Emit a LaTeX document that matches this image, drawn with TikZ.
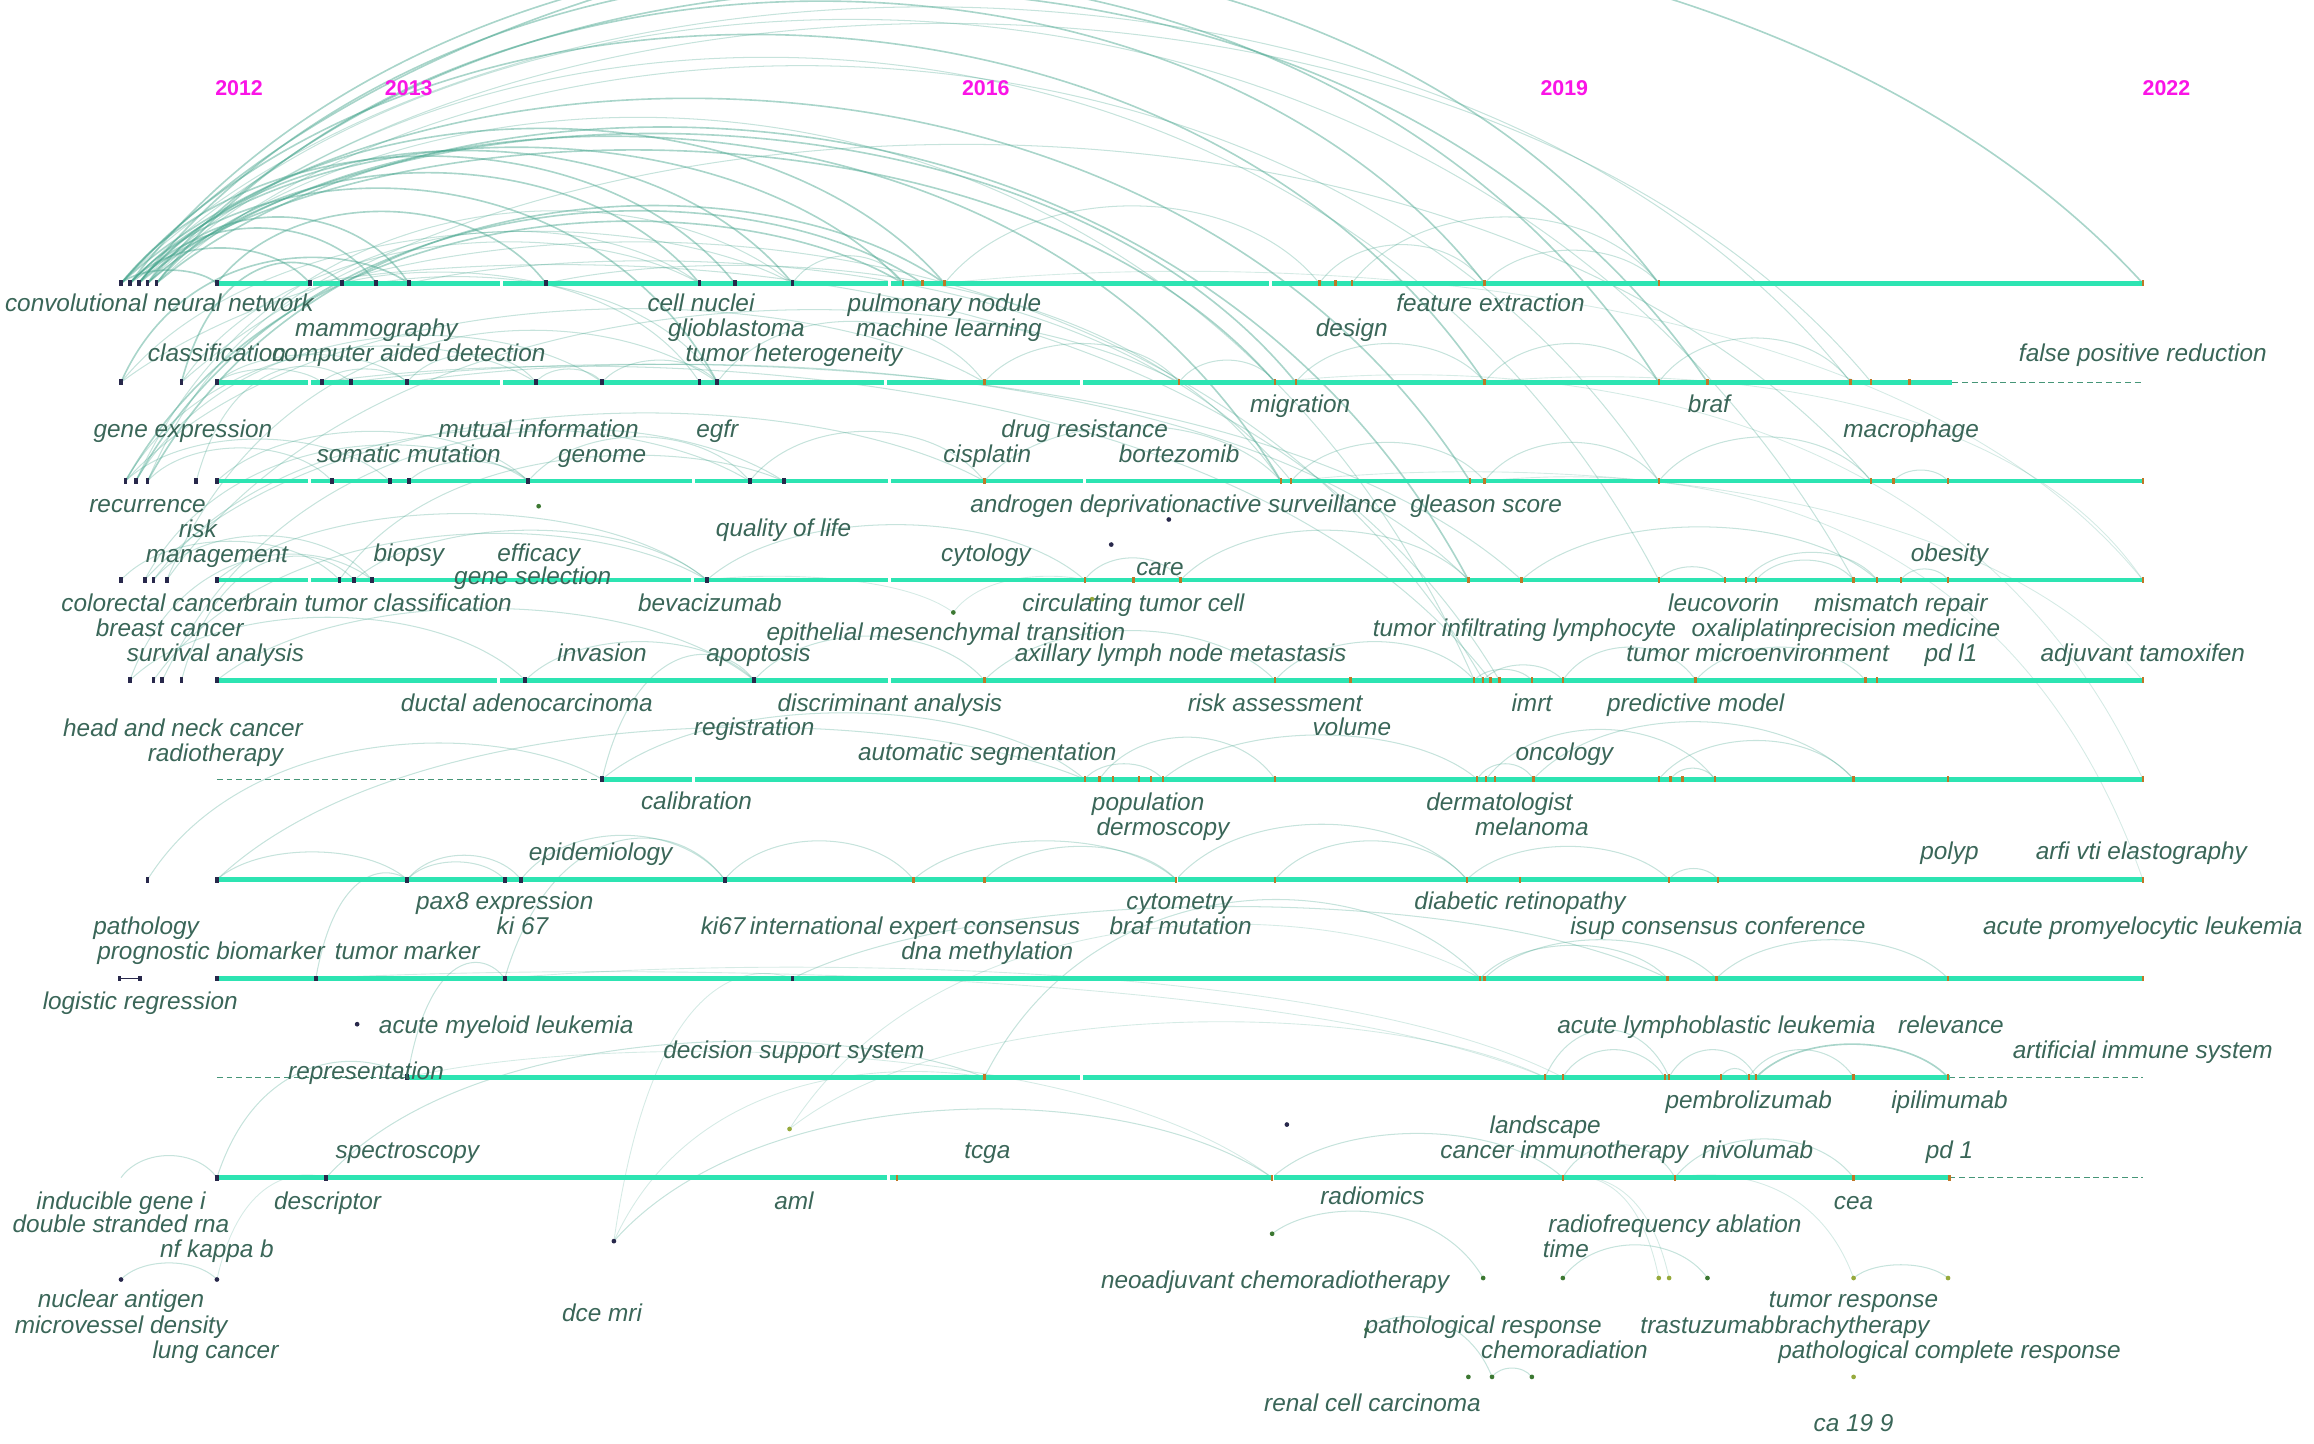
\documentclass[tikz,border=0pt]{standalone}
\usepackage{fontspec}
\setmainfont{Liberation Sans}
\usepackage{tikz}
\usetikzlibrary{calc}

\definecolor{kwtext}{RGB}{58,102,88}
\definecolor{yearmag}{RGB}{250,20,230}
\definecolor{tlgreen}{RGB}{45,228,178}
\definecolor{tldash}{RGB}{70,150,120}
\definecolor{arcteal}{RGB}{65,162,138}
\definecolor{mkdark}{RGB}{40,40,75}
\definecolor{mkorange}{RGB}{190,120,40}
\definecolor{mkgreen}{RGB}{60,120,50}
\definecolor{mkolive}{RGB}{150,170,60}

\pgfdeclarelayer{arcs}
\pgfsetlayers{arcs,main}

\newcommand{\kwarc}[4][link]{%
  \draw[#1] let \p1=(#2), \p2=(#3) in (#2) .. controls ({\x1+0.22*(\x2-\x1)},{max(\y1,\y2)+#4pt}) and ({\x2-0.22*(\x2-\x1)},{max(\y1,\y2)+#4pt}) .. (#3);}

\begin{document}
\begin{tikzpicture}[x=1pt, y=-1pt]
\tikzset{
  year/.style={font=\bfseries\fontsize{14.5}{14.5}\selectfont, text=yearmag, inner sep=0},
  kw/.style={font=\itshape\fontsize{16.5}{18}\selectfont, text=kwtext, inner sep=0, text height=12pt, text depth=3.5pt},
  tline/.style={draw=tlgreen, line width=3.2pt},
  tdash/.style={draw=tldash, line width=0.9pt, dash pattern=on 4pt off 2.5pt},
  link/.style={draw=arcteal, line width=0.7pt, draw opacity=0.3},
  linkS/.style={draw=arcteal, line width=1.1pt, draw opacity=0.45},
  linkF/.style={draw=arcteal, line width=0.6pt, draw opacity=0.22}
}
  \useasboundingbox (0,0) rectangle (1568,978);

  \foreach \y/\a/\b in {192/147/1452, 259/147/1323, 326/147/1452, 393/147/1452, 461/147/1452,
                        528/408/1452, 596/147/1452, 663/147/1452, 730/276/1321, 798/147/1321}
    \draw[tline] (\a,\y) -- (\b,\y);
  \foreach \y/\a/\b in {259/1323/1452, 528/147/408, 730/147/276, 730/1321/1452, 798/1321/1452}
    \draw[tdash] (\a,\y) -- (\b,\y);
  \foreach \y/\x in {192/211, 192/340, 192/603, 192/861, 259/210, 259/340, 259/600, 259/733,
                     326/210, 326/470, 326/603, 326/735, 393/210, 393/469, 393/603, 461/338, 461/603,
                     528/470, 596/342, 596/797, 730/733, 798/602, 798/862}
    \fill[white] (\x-1,\y-2.5) rectangle (\x+1,\y+2.5);

  \foreach \l/\y/\xs in {
      1/192/{82,88,94,100,106,147,210,232,255,277,370,474,498,537,612,625,640,894,905,916,1006,1124,1452},
      2/259/{82,123,147,218,238,276,363,408,474,486,667,799,864,878,1006,1124,1157,1254,1268,1294},
      3/326/{85,92,100,133,147,225,264,277,358,508,531,667,868,875,996,1006,1124,1268,1283,1320,1452},
      4/393/{82,98,104,113,147,230,240,252,479,735,768,800,995,1031,1124,1169,1183,1190,1256,1272,1288,1320,1452},
      5/461/{88,104,110,123,147,356,511,667,864,915,999,1005,1010,1016,1038,1059,1149,1264,1272,1452},
      6/528/{408,735,745,754,772,780,788,864,1001,1007,1013,1039,1124,1132,1140,1162,1256,1320,1452},
      7/596/{100,147,276,342,353,491,619,667,797,864,994,1030,1131,1164,1452},
      8/663/{81,95,147,214,342,537,1003,1006,1130,1163,1320,1452},
      9/730/{276,667,1047,1059,1128,1131,1166,1185,1190,1256,1320},
      10/798/{147,221,608,862,1059,1135,1256,1321}} {
    \foreach \x in \xs {
      \coordinate (l\l-\x) at (\x,\y);
      \ifnum\x<560 \fill[mkdark] (\x-1.3,\y-2) rectangle (\x+1.3,\y+2);
      \else \fill[mkorange] (\x-0.8,\y-2) rectangle (\x+0.8,\y+2); \fi
    }
  }
  \coordinate (l10-82) at (82,798);
  \draw[mkdark, line width=0.6pt] (l8-81) -- (l8-95);

  \foreach \n/\x/\y/\c in {nuc/82/867/mkdark, nfkb/147/867/mkdark, dce/416/841/mkdark, aml2/242/694/mkdark,
                           gsel/365/343/mkgreen, act/792/352/mkdark, ctc1/753/369/mkdark, emt/646/415/mkgreen,
                           ctc2/740/406/mkolive, amlx/535/765/mkolive, landx/872/762/mkdark, rad/862/836/mkgreen,
                           neo/1005/866/mkgreen, tim/1059/866/mkgreen, tra1/1124/866/mkolive, tra2/1131/866/mkolive,
                           rfa/1157/866/mkgreen, tre/1256/866/mkolive, brc/1320/866/mkolive, pr1/926/901/mkgreen,
                           ch1/995/933/mkgreen, ch2/1011/933/mkgreen, ch3/1038/933/mkgreen, pcr/1256/933/mkolive} {
    \coordinate (\n) at (\x,\y);
    \fill[\c] (\n) circle (1.6);
  }

  \begin{pgfonlayer}{arcs}
  \clip (0,0) rectangle (1568,978);
  \foreach \a/\b/\h in {l1-82/l1-1452/330, l1-88/l1-1124/300, l1-94/l2-1124/290, l1-100/l2-1157/275,
                        l1-106/l1-1006/255, l1-82/l2-1006/235, l1-88/l1-612/123, l1-94/l1-640/140,
                        l1-100/l3-868/150, l1-106/l4-995/165, l1-82/l3-996/185, l1-88/l2-864/130,
                        l1-94/l2-878/145, l1-82/l1-147/12, l1-88/l1-210/32, l1-94/l1-255/50,
                        l1-100/l1-277/60, l1-147/l1-370/65, l1-106/l1-474/100, l1-82/l1-498/115,
                        l1-88/l2-486/95, l1-94/l1-537/120, l3-85/l1-612/70, l3-92/l1-625/80,
                        l3-100/l1-640/85, l2-82/l1-277/30, l2-123/l1-232/25, l9-1190/l9-1320/30}
    \kwarc[linkS]{\a}{\b}{\h};
  \foreach \a/\b/\h in {l1-100/l4-1124/230, l1-106/l3-1124/215, l2-123/l3-1268/225, l1-82/l2-1254/260,
                        l1-88/l4-1256/265, l1-94/l2-1268/245, l1-100/l5-999/180, l2-82/l5-1005/150,
                        l1-277/l3-875/30, l1-370/l3-868/25, l2-276/l4-995/25, l2-218/l5-1010/25,
                        l1-210/l5-1016/30, l2-238/l4-1031/25, l1-255/l2-486/10, l1-232/l2-474/15,
                        l2-82/l1-537/55, l2-123/l1-474/45, l2-147/l2-218/12, l2-147/l2-276/25,
                        l2-218/l2-276/12, l2-276/l2-363/25, l2-363/l2-408/12, l2-408/l2-486/20,
                        l2-486/l2-667/55, l2-667/l2-799/35, l2-799/l2-864/20, l2-878/l2-1006/35,
                        l2-1006/l2-1124/35, l2-1124/l2-1254/40, l1-537/l1-612/25, l1-640/l1-894/70,
                        l1-894/l1-1006/35, l1-916/l1-1124/60, l1-1006/l1-1124/30,
                        l3-85/l2-363/40, l3-92/l2-408/50, l3-100/l1-474/60, l3-92/l1-537/80,
                        l3-85/l2-667/75, l3-100/l3-225/30, l3-85/l3-264/38, l3-147/l3-358/45,
                        l3-277/l3-358/18, l3-133/l2-238/20, l3-358/l3-508/40, l3-508/l3-667/45,
                        l3-667/l3-868/50, l3-875/l3-1006/35, l3-1006/l3-1124/35, l3-1124/l3-1268/40,
                        l3-1283/l3-1320/10, l4-98/l3-358/40, l4-104/l3-508/55, l4-113/l2-486/60,
                        l4-82/l4-230/35, l4-104/l4-252/40, l4-147/l4-479/60, l4-230/l3-531/30,
                        l4-98/l3-667/70, l4-113/l2-799/80, l4-240/l4-479/45, l4-479/l4-735/50,
                        l4-735/l4-800/20, l4-800/l4-995/45, l4-1031/l4-1272/48, l4-1183/l4-1272/25,
                        l4-1190/l4-1256/18, l4-1124/l4-1169/12, l4-1288/l4-1320/10,
                        l5-88/l5-356/57, l5-104/l4-479/50, l5-110/l3-531/60, l5-123/l4-240/28,
                        l5-88/l4-252/30, l5-147/l5-511/65, l5-356/l5-511/35, l5-511/l5-667/40,
                        l5-667/l5-864/45, l5-864/l5-999/35, l5-999/l5-1038/10, l5-1005/l5-1059/14,
                        l5-1059/l5-1149/30, l5-1149/l5-1264/30, l6-408/l5-511/30, l6-408/l6-735/60,
                        l6-735/l6-788/14, l6-745/l6-864/38, l6-788/l6-1001/40, l6-1001/l6-1039/14,
                        l6-1039/l6-1256/52, l6-1007/l6-1162/45, l6-1132/l6-1162/10, l6-1124/l6-1256/35,
                        l7-100/l6-408/40, l7-147/l6-735/55, l7-147/l7-276/25, l7-276/l7-342/16,
                        l7-276/l7-353/22, l7-353/l7-491/40, l7-491/l7-619/35, l7-619/l7-797/35,
                        l7-667/l7-797/30, l7-797/l7-994/50, l7-864/l7-994/35, l7-994/l7-1131/30,
                        l7-1131/l7-1164/10, l8-342/l7-491/45, l8-537/l8-1130/65, l8-1003/l8-1130/30,
                        l8-1006/l8-1163/35, l8-1163/l8-1320/35, l8-214/l7-276/10, l9-667/l8-1003/80,
                        l9-1047/l9-1131/43, l9-1059/l9-1128/25, l9-1131/l9-1190/25, l9-1166/l9-1185/8,
                        l9-1185/l9-1256/25, l9-276/l8-342/20, l10-147/l9-276/20, l10-221/l9-667/40,
                        dce/l10-862/68, l10-862/l10-1059/40, l10-1059/l10-1135/30, l10-1135/l10-1256/35,
                        l10-82/l10-147/20, nuc/nfkb/15, rad/neo/24, tim/rfa/30, tre/brc/12, pr1/ch2/15,
                        ch2/ch3/8}
    \kwarc{\a}{\b}{\h};
  \foreach \a/\b/\h in {l2-1006/l4-1452/10, l3-1006/l7-1452/10, l8-214/l9-1047/10, l8-342/l9-1059/15,
                        l9-276/l10-862/30, nfkb/l10-221/5, dce/l9-667/10, dce/l8-537/10,
                        amlx/l8-1003/60, amlx/l9-1047/55, l10-1135/tre/5, l10-1059/tra1/3,
                        l10-1059/tra2/3, emt/l4-479/5, emt/l4-735/5, l1-640/l4-1452/20,
                        l2-864/l6-1452/15, l3-875/l5-1452/15}
    \kwarc[linkF]{\a}{\b}{\h};
  \end{pgfonlayer}

  \foreach \x/\y/\t [count=\i] in {
      108/207/convolutional neural network, 475/207/cell nuclei, 640/207/pulmonary nodule,
      1010/207/feature extraction, 255/224/mammography, 499/224/glioblastoma, 643/224/machine learning,
      916/224/design, 147/241/classification, 277/241/computer aided detection, 538/241/tumor heterogeneity,
      1452/241/false positive reduction, 881/275/migration, 1158/275/braf, 124/292/gene expression,
      365/292/mutual information, 486/292/egfr, 735/292/drug resistance, 1295/292/macrophage,
      277/309/somatic mutation, 408/309/genome, 669/309/cisplatin, 799/309/bortezomib,
      100/343/recurrence, 735/343/androgen deprivation, 879/343/active surveillance, 1007/343/gleason score,
      134/360/risk, 531/359/quality of life, 147/377/management, 277/376/biopsy, 365/376/efficacy,
      668/376/cytology, 786/386/care, 1321/376/obesity, 361/392/gene selection,
      104/410/colorectal cancer, 256/410/brain tumor classification, 481/410/bevacizumab,
      768/410/circulating tumor cell, 1168/410/leucovorin, 1288/410/mismatch repair,
      115/427/breast cancer, 641/430/epithelial mesenchymal transition, 1033/427/tumor infiltrating lymphocyte,
      1183/427/oxaliplatin, 1287/427/precision medicine, 146/444/survival analysis, 408/444/invasion,
      514/444/apoptosis, 800/444/axillary lymph node metastasis, 1191/444/tumor microenvironment,
      1322/444/pd l1, 1452/444/adjuvant tamoxifen, 357/478/ductal adenocarcinoma,
      603/478/discriminant analysis, 864/478/risk assessment, 1038/478/imrt, 1149/478/predictive model,
      124/495/head and neck cancer, 511/494/registration, 916/494/volume, 146/512/radiotherapy,
      669/511/automatic segmentation, 1060/511/oncology, 472/544/calibration, 778/545/population,
      1016/545/dermatologist, 788/562/dermoscopy, 1038/562/melanoma, 407/579/epidemiology,
      1321/578/polyp, 1451/578/arfi vti elastography, 342/612/pax8 expression, 799/612/cytometry,
      1030/612/diabetic retinopathy, 99/629/pathology, 354/629/ki 67, 490/629/ki67,
      620/629/international expert consensus, 800/629/braf mutation, 1164/629/isup consensus conference,
      1452/629/acute promyelocytic leukemia, 143/646/prognostic biomarker, 276/646/tumor marker,
      669/646/dna methylation, 95/680/logistic regression, 343/696/acute myeloid leukemia,
      1163/696/acute lymphoblastic leukemia, 1322/696/relevance, 538/713/decision support system,
      1452/713/artificial immune system, 248/727/representation, 1185/747/pembrolizumab,
      1321/747/ipilimumab, 1047/764/landscape, 276/781/spectroscopy, 669/781/tcga,
      1060/781/cancer immunotherapy, 1191/781/nivolumab, 1321/781/pd 1, 82/815/inducible gene i,
      222/815/descriptor, 538/815/aml, 930/812/radiomics, 1256/815/cea, 82/831/double stranded rna,
      1135/831/radiofrequency ablation, 147/848/nf kappa b, 1061/848/time,
      864/869/neoadjuvant chemoradiotherapy, 82/882/nuclear antigen, 1256/882/tumor response,
      408/891/dce mri, 82/899/microvessel density, 1005/899/pathological response, 1157/899/trastuzumab,
      1255/899/brachytherapy, 146/916/lung cancer, 1060/916/chemoradiation,
      1321/916/pathological complete response, 930/952/renal cell carcinoma, 1256/966/ca 19 9}
    \node[kw] (kw\i) at (\x,\y) {\t};

  \foreach \x/\t in {162/2012, 277/2013, 668/2016, 1060/2019, 1468/2022}
    \node[year] (y\t) at (\x,60) {\t};
\end{tikzpicture}
\end{document}
